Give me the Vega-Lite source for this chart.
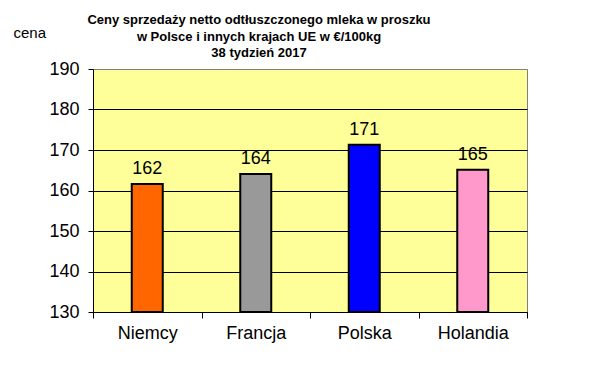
{
  "$schema": "https://vega.github.io/schema/vega-lite/v6.json",
  "width": 434,
  "height": 243,
  "autosize": "none",
  "padding": {"left": 93, "top": 69, "right": 64, "bottom": 54},
  "background": "white",
  "title": {
    "text": ["Ceny sprzedaży netto odtłuszczonego mleka w proszku", "w Polsce i innych  krajach UE w €/100kg", "38 tydzień 2017"],
    "font": "Liberation Sans",
    "fontSize": 13,
    "fontWeight": "bold",
    "lineHeight": 16.5,
    "color": "black",
    "anchor": "middle",
    "dx": -51,
    "dy": 45,
    "offset": 10
  },
  "data": {
    "values": [
      {"kraj": "Niemcy", "cena": 161.6},
      {"kraj": "Francja", "cena": 164.1},
      {"kraj": "Polska", "cena": 171.3},
      {"kraj": "Holandia", "cena": 165.1}
    ]
  },
  "encoding": {
    "x": {
      "field": "kraj",
      "type": "nominal",
      "sort": null,
      "scale": {"paddingInner": 0, "paddingOuter": 0},
      "axis": {
        "title": null,
        "labelAngle": 0,
        "tickBand": "extent",
        "ticks": true,
        "tickSize": 6,
        "tickColor": "black",
        "domainColor": "black",
        "domainWidth": 1,
        "labelPadding": 6,
        "labelFontSize": 18,
        "labelFont": "Liberation Sans",
        "labelColor": "black",
        "grid": false
      }
    },
    "y": {
      "field": "cena",
      "type": "quantitative",
      "scale": {"domain": [130, 190], "nice": false, "zero": false},
      "axis": {
        "values": [130, 140, 150, 160, 170, 180, 190],
        "title": "cena",
        "titleAngle": 0,
        "titleAlign": "left",
        "titleBaseline": "middle",
        "titleX": -80,
        "titleY": -37,
        "titleFont": "Liberation Sans",
        "titleFontSize": 15,
        "titleFontWeight": "normal",
        "titleColor": "black",
        "grid": true,
        "gridColor": {"condition": {"test": "datum.value == 190", "value": "#808080"}, "value": "black"},
        "gridWidth": 1,
        "tickSize": 5,
        "tickColor": "black",
        "domainColor": "black",
        "labelPadding": 9,
        "labelFontSize": 18,
        "labelFont": "Liberation Sans",
        "labelColor": "black"
      }
    }
  },
  "layer": [
    {
      "mark": {"type": "bar", "width": 31, "stroke": "black", "strokeWidth": 2},
      "encoding": {
        "y2": {"datum": 130},
        "color": {
          "field": "kraj",
          "type": "nominal",
          "scale": {"domain": ["Niemcy", "Francja", "Polska", "Holandia"], "range": ["#FF6600", "#999999", "#0000FF", "#FF99CC"]},
          "legend": null
        }
      }
    },
    {
      "mark": {"type": "text", "dy": -10, "baseline": "alphabetic", "fontSize": 18, "font": "Liberation Sans", "color": "black"},
      "encoding": {"text": {"field": "cena", "type": "quantitative", "format": ".0f"}}
    }
  ],
  "config": {
    "view": {"fill": "#FFFF99", "stroke": "#808080", "strokeWidth": 1}
  }
}
